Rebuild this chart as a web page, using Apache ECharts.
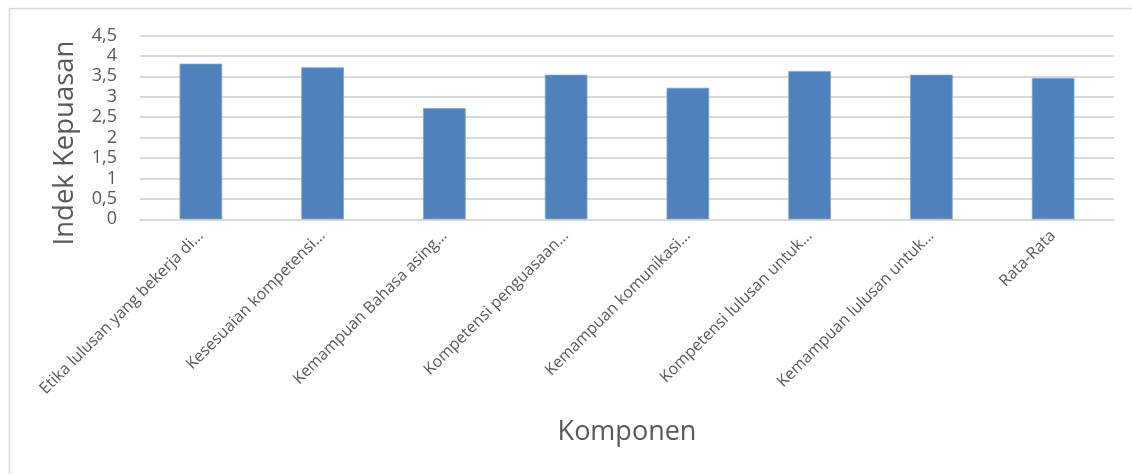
<!DOCTYPE html>
<html>
<head>
<meta charset="utf-8">
<script src="https://cdn.jsdelivr.net/npm/echarts@6/dist/echarts.min.js"></script>
<style>
  html, body { margin: 0; padding: 0; background: #ffffff; }
  #chart { width: 1132px; height: 474px; }
</style>
</head>
<body>
<div id="chart"></div>
<script>
// Satisfaction index per component
const categories = [
  'Etika lulusan yang bekerja di…',
  'Kesesuaian kompetensi…',
  'Kemampuan Bahasa asing…',
  'Kompetensi penguasaan…',
  'Kemampuan komunikasi…',
  'Kompetensi lulusan untuk…',
  'Kemampuan lulusan untuk…',
  'Rata-Rata'
];
const indexValues = [3.81, 3.72, 2.72, 3.54, 3.22, 3.63, 3.54, 3.46];
const yTicks = { min: 0, max: 4.5, step: 0.5 };

const FONT = '"Open Sans", "Noto Sans", sans-serif';
const GREY = '#595959';

const chart = echarts.init(document.getElementById('chart'), null, { renderer: 'canvas' });

chart.setOption({
  animation: false,
  backgroundColor: '#ffffff',
  graphic: [{
    type: 'rect',
    left: 7, top: 6,
    shape: { width: 1140, height: 480 },
    style: { fill: 'none', stroke: '#d9d9d9', lineWidth: 1.5 },
    silent: true
  }, {
    // vertical axis title
    type: 'text',
    x: 65, y: 143,
    rotation: Math.PI / 2,
    style: {
      text: 'Indek Kepuasan',
      fontFamily: FONT, fontSize: 27.5, fill: GREY,
      align: 'center', verticalAlign: 'middle'
    },
    silent: true
  }],
  grid: { left: 140, right: 18, top: 35.5, bottom: 254.7, containLabel: false },
  xAxis: {
    type: 'category',
    data: categories,
    name: 'Komponen',
    nameLocation: 'middle',
    nameGap: 200,
    nameTextStyle: { fontFamily: FONT, fontSize: 27, color: GREY },
    axisLine: { show: true, lineStyle: { color: '#d9d9d9', width: 2 } },
    axisTick: { show: false },
    axisLabel: {
      interval: 0,
      rotate: 45,
      margin: 14,
      fontFamily: FONT,
      fontSize: 16,
      color: GREY
    }
  },
  yAxis: {
    type: 'value',
    min: yTicks.min,
    max: yTicks.max,
    interval: yTicks.step,
    axisLine: { show: false },
    axisTick: { show: false },
    splitLine: { lineStyle: { color: '#d9d9d9', width: 2 } },
    axisLabel: {
      margin: 23,
      fontFamily: FONT,
      fontSize: 18,
      color: GREY,
      formatter: v => String(v).replace('.', ',')
    }
  },
  series: [{
    type: 'bar',
    data: indexValues,
    barWidth: '35%',
    itemStyle: { color: '#4f81bd', borderColor: '#7fa3d0', borderWidth: 0.8 }
  }]
});
</script>
</body>
</html>
